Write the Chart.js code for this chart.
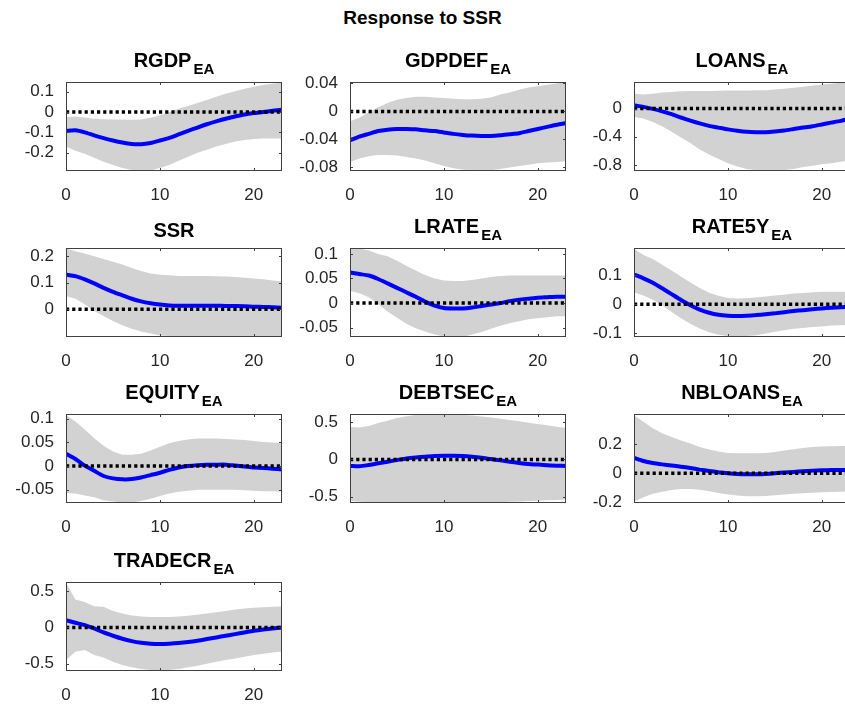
<!DOCTYPE html>
<html>
<head>
<meta charset="utf-8">
<title>Response to SSR</title>
<script src="https://cdn.jsdelivr.net/npm/chart.js@4.4.0/dist/chart.umd.min.js"></script>
<style>
  html, body { margin: 0; padding: 0; background: #fff; }
  body { position: relative; width: 845px; height: 709px; overflow: hidden;
         font-family: "Liberation Sans", Arial, Helvetica, sans-serif; }
  canvas.panel { position: absolute; }
  .ttl { position: absolute; text-align: center; font-weight: bold; font-size: 20px;
         line-height: 20px; color: #000; white-space: nowrap; }
  .ttl .sub { font-size: 15px; position: relative; top: 7px; margin-left: 2px; }
  #main { position: absolute; left: 0; top: 8px; width: 845px; text-align: center;
          font-weight: bold; font-size: 19px; line-height: 19px; color: #000; }
</style>
</head>
<body>
<div id="main">Response to SSR</div>

<script>
// horizons (x axis) and x ticks shared by every panel
const horizons = [0, 1, 2, 3, 4, 5, 6, 7, 8, 9, 10, 11, 12, 13, 14, 15, 16, 17, 18, 19, 20, 21, 22, 23];
const xTicks = [0, 10, 20];

// RGDP
const rgdpMedian = [-0.093, -0.09, -0.1, -0.115, -0.128, -0.14, -0.15, -0.157, -0.158, -0.152, -0.14, -0.127, -0.11, -0.093, -0.076, -0.06, -0.046, -0.033, -0.022, -0.012, -0.005, 0.0, 0.006, 0.011];
const rgdpUpper = [-0.025, -0.022, -0.027, -0.033, -0.035, -0.036, -0.037, -0.038, -0.036, -0.028, -0.016, 0.0, 0.016, 0.03, 0.045, 0.06, 0.075, 0.09, 0.103, 0.115, 0.125, 0.133, 0.14, 0.146];
const rgdpLower = [-0.17, -0.19, -0.205, -0.225, -0.245, -0.26, -0.275, -0.285, -0.29, -0.288, -0.275, -0.26, -0.24, -0.22, -0.2, -0.185, -0.17, -0.157, -0.145, -0.137, -0.132, -0.13, -0.13, -0.13];
const rgdpTicks = [-0.2, -0.1, 0, 0.1];
const rgdpRange = [-0.29, 0.148];

// GDPDEF
const gdpdefMedian = [-0.041, -0.036, -0.032, -0.028, -0.026, -0.025, -0.025, -0.0255, -0.027, -0.028, -0.03, -0.032, -0.0335, -0.0345, -0.035, -0.035, -0.034, -0.0325, -0.031, -0.028, -0.025, -0.022, -0.019, -0.0165];
const gdpdefUpper = [-0.014, -0.009, -0.001, 0.006, 0.012, 0.0165, 0.019, 0.021, 0.021, 0.02, 0.019, 0.018, 0.0175, 0.0175, 0.018, 0.02, 0.024, 0.027, 0.031, 0.034, 0.036, 0.038, 0.04, 0.042];
const gdpdefLower = [-0.072, -0.067, -0.064, -0.062, -0.062, -0.063, -0.065, -0.067, -0.07, -0.074, -0.078, -0.081, -0.083, -0.085, -0.085, -0.084, -0.082, -0.08, -0.078, -0.076, -0.074, -0.073, -0.072, -0.071];
const gdpdefTicks = [-0.08, -0.04, 0, 0.04];
const gdpdefRange = [-0.085, 0.042];

// LOANS
const loansMedian = [0.047, 0.024, -0.005, -0.04, -0.08, -0.127, -0.17, -0.21, -0.245, -0.27, -0.295, -0.315, -0.33, -0.335, -0.335, -0.325, -0.31, -0.29, -0.27, -0.25, -0.225, -0.2, -0.175, -0.145];
const loansUpper = [0.21, 0.2, 0.21, 0.226, 0.235, 0.245, 0.248, 0.25, 0.25, 0.252, 0.255, 0.256, 0.257, 0.258, 0.26, 0.268, 0.28, 0.295, 0.31, 0.325, 0.34, 0.352, 0.365, 0.376];
const loansLower = [-0.12, -0.14, -0.19, -0.25, -0.33, -0.41, -0.49, -0.58, -0.65, -0.715, -0.775, -0.82, -0.855, -0.875, -0.88, -0.88, -0.87, -0.855, -0.83, -0.81, -0.79, -0.775, -0.755, -0.74];
const loansTicks = [-0.8, -0.4, 0];
const loansRange = [-0.885, 0.376];

// SSR
const ssrMedian = [0.131, 0.125, 0.113, 0.098, 0.081, 0.066, 0.053, 0.04, 0.03, 0.023, 0.018, 0.015, 0.014, 0.014, 0.014, 0.014, 0.014, 0.013, 0.0125, 0.012, 0.01, 0.009, 0.008, 0.006];
const ssrUpper = [0.229, 0.219, 0.21, 0.2, 0.19, 0.179, 0.169, 0.156, 0.144, 0.135, 0.13, 0.128, 0.126, 0.126, 0.126, 0.126, 0.125, 0.124, 0.122, 0.119, 0.116, 0.113, 0.109, 0.106];
const ssrLower = [0.05, 0.04, 0.019, -0.006, -0.025, -0.044, -0.06, -0.073, -0.083, -0.091, -0.098, -0.1, -0.101, -0.102, -0.102, -0.102, -0.102, -0.102, -0.103, -0.103, -0.103, -0.104, -0.104, -0.104];
const ssrTicks = [0, 0.1, 0.2];
const ssrRange = [-0.104, 0.231];

// LRATE
const lrateMedian = [0.062, 0.059, 0.056, 0.049, 0.04, 0.031, 0.022, 0.013, 0.003, -0.005, -0.01, -0.011, -0.011, -0.009, -0.006, -0.003, 0.0, 0.004, 0.007, 0.009, 0.011, 0.012, 0.013, 0.013];
const lrateUpper = [0.112, 0.111, 0.107, 0.1, 0.095, 0.086, 0.076, 0.066, 0.057, 0.05, 0.046, 0.045, 0.045, 0.047, 0.05, 0.053, 0.055, 0.056, 0.056, 0.056, 0.056, 0.056, 0.056, 0.056];
const lrateLower = [0.025, 0.02, 0.012, -0.002, -0.017, -0.03, -0.042, -0.051, -0.058, -0.064, -0.068, -0.069, -0.069, -0.064, -0.059, -0.052, -0.046, -0.041, -0.037, -0.033, -0.031, -0.029, -0.027, -0.027];
const lrateTicks = [-0.05, 0, 0.05, 0.1];
const lrateRange = [-0.069, 0.112];

// RATE5Y
const rate5yMedian = [0.102, 0.089, 0.074, 0.055, 0.035, 0.015, -0.003, -0.018, -0.029, -0.036, -0.039, -0.04, -0.039, -0.037, -0.034, -0.031, -0.027, -0.023, -0.02, -0.017, -0.014, -0.012, -0.01, -0.009];
const rate5yUpper = [0.19, 0.169, 0.155, 0.136, 0.116, 0.095, 0.075, 0.056, 0.04, 0.029, 0.022, 0.02, 0.021, 0.023, 0.027, 0.03, 0.033, 0.037, 0.039, 0.041, 0.043, 0.043, 0.043, 0.043];
const rate5yLower = [0.041, 0.03, 0.016, -0.003, -0.026, -0.048, -0.067, -0.083, -0.096, -0.104, -0.109, -0.11, -0.109, -0.106, -0.1, -0.094, -0.089, -0.084, -0.081, -0.078, -0.076, -0.073, -0.072, -0.071];
const rate5yTicks = [-0.1, 0, 0.1];
const rate5yRange = [-0.112, 0.193];

// EQUITY
const equityMedian = [0.026, 0.015, 0.001, -0.01, -0.021, -0.026, -0.028, -0.0275, -0.024, -0.019, -0.014, -0.008, -0.003, 0.0, 0.002, 0.003, 0.003, 0.003, 0.001, -0.001, -0.003, -0.004, -0.0055, -0.007];
const equityUpper = [0.108, 0.094, 0.077, 0.059, 0.043, 0.031, 0.024, 0.024, 0.026, 0.033, 0.041, 0.048, 0.053, 0.056, 0.058, 0.058, 0.058, 0.057, 0.056, 0.055, 0.053, 0.051, 0.05, 0.048];
const equityLower = [-0.057, -0.058, -0.062, -0.066, -0.072, -0.075, -0.077, -0.077, -0.074, -0.069, -0.063, -0.058, -0.054, -0.052, -0.05, -0.05, -0.05, -0.05, -0.05, -0.051, -0.052, -0.053, -0.053, -0.054];
const equityTicks = [-0.05, 0, 0.05, 0.1];
const equityRange = [-0.078, 0.11];

// DEBTSEC
const debtsecMedian = [-0.088, -0.093, -0.075, -0.053, -0.031, -0.009, 0.013, 0.026, 0.035, 0.044, 0.048, 0.048, 0.044, 0.035, 0.022, 0.004, -0.013, -0.031, -0.048, -0.062, -0.07, -0.079, -0.084, -0.088];
const debtsecUpper = [0.436, 0.43, 0.45, 0.49, 0.52, 0.555, 0.58, 0.595, 0.603, 0.605, 0.605, 0.603, 0.597, 0.59, 0.577, 0.564, 0.546, 0.529, 0.511, 0.493, 0.476, 0.458, 0.44, 0.423];
const debtsecLower = [-0.56, -0.57, -0.575, -0.58, -0.583, -0.585, -0.586, -0.586, -0.586, -0.586, -0.586, -0.586, -0.586, -0.586, -0.585, -0.58, -0.575, -0.57, -0.565, -0.56, -0.555, -0.55, -0.545, -0.54];
const debtsecTicks = [-0.5, 0, 0.5];
const debtsecRange = [-0.586, 0.61];

// NBLOANS
const nbloansMedian = [0.106, 0.084, 0.07, 0.061, 0.054, 0.045, 0.036, 0.025, 0.016, 0.007, 0.0, -0.005, -0.007, -0.007, -0.005, 0.0, 0.005, 0.009, 0.014, 0.018, 0.02, 0.022, 0.023, 0.023];
const nbloansUpper = [0.4, 0.355, 0.31, 0.276, 0.249, 0.226, 0.204, 0.181, 0.163, 0.149, 0.14, 0.138, 0.138, 0.138, 0.14, 0.147, 0.156, 0.165, 0.174, 0.181, 0.185, 0.186, 0.187, 0.188];
const nbloansLower = [-0.194, -0.165, -0.142, -0.127, -0.115, -0.108, -0.108, -0.113, -0.124, -0.136, -0.147, -0.154, -0.158, -0.158, -0.156, -0.151, -0.147, -0.142, -0.138, -0.134, -0.131, -0.129, -0.127, -0.124];
const nbloansTicks = [-0.2, 0, 0.2];
const nbloansRange = [-0.205, 0.408];

// TRADECR
const tradecrMedian = [0.101, 0.065, 0.032, -0.014, -0.069, -0.115, -0.157, -0.189, -0.212, -0.226, -0.23, -0.226, -0.217, -0.203, -0.184, -0.161, -0.138, -0.115, -0.092, -0.069, -0.046, -0.028, -0.014, 0.0];
const tradecrUpper = [0.622, 0.387, 0.355, 0.295, 0.286, 0.23, 0.194, 0.166, 0.152, 0.147, 0.147, 0.147, 0.152, 0.161, 0.175, 0.194, 0.212, 0.23, 0.249, 0.263, 0.272, 0.281, 0.286, 0.29];
const tradecrLower = [-0.452, -0.336, -0.313, -0.382, -0.415, -0.475, -0.521, -0.553, -0.576, -0.59, -0.594, -0.59, -0.576, -0.553, -0.53, -0.502, -0.475, -0.452, -0.429, -0.406, -0.382, -0.364, -0.346, -0.332];
const tradecrTicks = [-0.5, 0, 0.5];
const tradecrRange = [-0.604, 0.631];

const panels = [
    { name: 'RGDP',    sub: 'EA', median: rgdpMedian,    upper: rgdpUpper,    lower: rgdpLower,    ticks: rgdpTicks,    range: rgdpRange },
    { name: 'GDPDEF',  sub: 'EA', median: gdpdefMedian,  upper: gdpdefUpper,  lower: gdpdefLower,  ticks: gdpdefTicks,  range: gdpdefRange },
    { name: 'LOANS',   sub: 'EA', median: loansMedian,   upper: loansUpper,   lower: loansLower,   ticks: loansTicks,   range: loansRange },
    { name: 'SSR',     sub: '',   median: ssrMedian,     upper: ssrUpper,     lower: ssrLower,     ticks: ssrTicks,     range: ssrRange },
    { name: 'LRATE',   sub: 'EA', median: lrateMedian,   upper: lrateUpper,   lower: lrateLower,   ticks: lrateTicks,   range: lrateRange },
    { name: 'RATE5Y',  sub: 'EA', median: rate5yMedian,  upper: rate5yUpper,  lower: rate5yLower,  ticks: rate5yTicks,  range: rate5yRange },
    { name: 'EQUITY',  sub: 'EA', median: equityMedian,  upper: equityUpper,  lower: equityLower,  ticks: equityTicks,  range: equityRange },
    { name: 'DEBTSEC', sub: 'EA', median: debtsecMedian, upper: debtsecUpper, lower: debtsecLower, ticks: debtsecTicks, range: debtsecRange },
    { name: 'NBLOANS', sub: 'EA', median: nbloansMedian, upper: nbloansUpper, lower: nbloansLower, ticks: nbloansTicks, range: nbloansRange },
    { name: 'TRADECR', sub: 'EA', median: tradecrMedian, upper: tradecrUpper, lower: tradecrLower, ticks: tradecrTicks, range: tradecrRange }
];

// subplot grid (plot area corners in page pixels)
const colLeft = [66, 350, 634];
const rowTop = [82, 248, 414, 582];
const plotW = 216, plotH = 89;
const padL = 62, padT = 12, padR = 4, padB = 30;

const tickFont = { family: '"Liberation Sans", Arial, Helvetica, sans-serif', size: 17 };
const axisColor = '#262626';

// MATLAB-style box with inward ticks on all four sides
const framePlugin = {
    id: 'frame',
    afterDatasetsDraw(chart) {
        const { ctx, chartArea: a, scales: { x, y } } = chart;
        ctx.save();
        ctx.strokeStyle = '#404040';
        ctx.lineWidth = 1;
        ctx.beginPath();
        x.ticks.forEach(t => {
            const px = Math.round(x.getPixelForValue(t.value)) + 0.5;
            ctx.moveTo(px, a.bottom); ctx.lineTo(px, a.bottom - 3);
            ctx.moveTo(px, a.top); ctx.lineTo(px, a.top + 3);
        });
        y.ticks.forEach(t => {
            const py = Math.round(y.getPixelForValue(t.value)) + 0.5;
            ctx.moveTo(a.left, py); ctx.lineTo(a.left + 3, py);
            ctx.moveTo(a.right, py); ctx.lineTo(a.right - 3, py);
        });
        ctx.stroke();
        ctx.strokeRect(Math.round(a.left) + 0.5, Math.round(a.top) + 0.5, Math.round(a.width) - 1, Math.round(a.height) - 1);
        ctx.restore();
    }
};

// keep tick labels from shrinking the plot area
function noScalePadding(s) {
    s.paddingTop = 0; s.paddingBottom = 0; s.paddingLeft = 0; s.paddingRight = 0;
}

function toPoints(values) {
    return horizons.map((h, k) => ({ x: h, y: values[k] }));
}

function makePanel(p, i) {
    const col = i % 3, row = Math.floor(i / 3);
    const left = colLeft[col], top = rowTop[row];

    const title = document.createElement('div');
    title.className = 'ttl';
    title.style.left = left + 'px';
    title.style.width = plotW + 'px';
    title.style.top = (top - (p.sub ? 32 : 28)) + 'px';
    title.innerHTML = p.name + (p.sub ? '<span class="sub">' + p.sub + '</span>' : '');

    const canvas = document.createElement('canvas');
    canvas.className = 'panel';
    canvas.width = padL + plotW + padR;
    canvas.height = padT + plotH + padB;
    canvas.style.left = (left - padL) + 'px';
    canvas.style.top = (top - padT) + 'px';
    document.body.appendChild(canvas);
    document.body.appendChild(title);

    new Chart(canvas.getContext('2d'), {
        type: 'line',
        data: {
            datasets: [
                { data: toPoints(p.upper), fill: '+1', backgroundColor: '#d2d2d2', borderWidth: 0, pointRadius: 0, tension: 0, order: 3 },
                { data: toPoints(p.lower), fill: false, borderWidth: 0, pointRadius: 0, tension: 0, order: 4 },
                { data: toPoints(p.median), borderColor: '#0000ff', borderWidth: 4, pointRadius: 0, tension: 0.2, fill: false, order: 2 },
                { data: [{ x: horizons[0], y: 0 }, { x: horizons[horizons.length - 1], y: 0 }],
                  borderColor: '#000', borderWidth: 3.5, borderDash: [3.2, 3], pointRadius: 0, fill: false, order: 1 }
            ]
        },
        options: {
            responsive: false,
            animation: false,
            devicePixelRatio: 1,
            events: [],
            layout: { padding: { left: 0, top: padT, right: padR, bottom: 0 } },
            plugins: { legend: { display: false }, tooltip: { enabled: false } },
            scales: {
                x: {
                    type: 'linear',
                    min: horizons[0],
                    max: horizons[horizons.length - 1],
                    afterBuildTicks: s => { s.ticks = xTicks.map(v => ({ value: v })); },
                    afterFit: s => { s.height = padB; noScalePadding(s); },
                    grid: { display: false, drawTicks: false },
                    border: { display: false },
                    ticks: { font: tickFont, color: axisColor, padding: 14, maxRotation: 0, autoSkip: false,
                             callback: v => String(v) }
                },
                y: {
                    type: 'linear',
                    min: p.range[0],
                    max: p.range[1],
                    afterBuildTicks: s => { s.ticks = p.ticks.map(v => ({ value: v })); },
                    afterFit: s => { s.width = padL; noScalePadding(s); },
                    grid: { display: false, drawTicks: false },
                    border: { display: false },
                    ticks: { font: tickFont, color: axisColor, padding: 12, autoSkip: false,
                             callback: v => String(v) }
                }
            }
        },
        plugins: [framePlugin]
    });
}

panels.forEach(makePanel);
</script>
</body>
</html>
